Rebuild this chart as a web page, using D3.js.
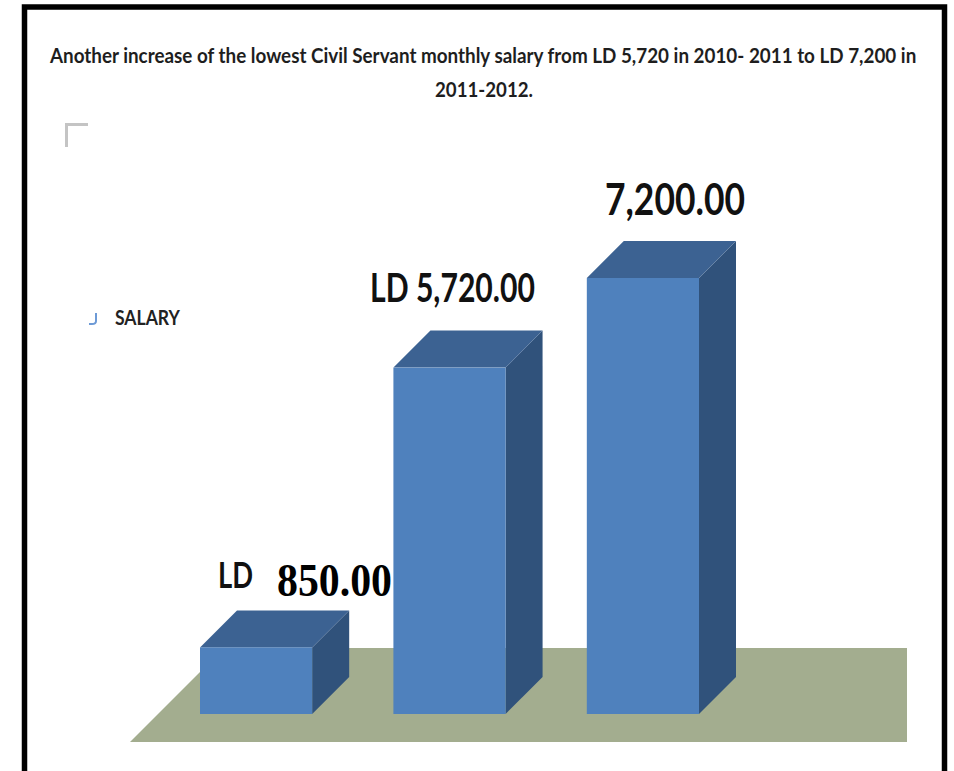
<!DOCTYPE html>
<html>
<head>
<meta charset="utf-8">
<script src="https://cdn.jsdelivr.net/npm/d3@7"></script>
<style>
  html, body { margin: 0; padding: 0; background: #fff; }
  svg { display: block; }
</style>
</head>
<body>
<svg id="chart" width="954" height="771"></svg>
<script>
// ---- data ----
const categories = ["Earlier", "2010-2011", "2011-2012"];
// bar heights as drawn in the picture (first bar is drawn taller than its "850" label)
const salaryValues = [1100, 5720, 7200];
const valueLabels = ["850.00", "LD 5,720.00", "7,200.00"];
const seriesName = "SALARY";
const titleLines = [
  "Another increase of the lowest Civil Servant monthly salary from LD 5,720 in 2010- 2011 to LD 7,200 in",
  "2011-2012."
];

// ---- layout ----
const svg = d3.select("#chart");
const depth = 37;
const baseY = 714;
const colors = { front: "#4f81bd", top: "#3c6292", side: "#30527b", floor: "#a3ad8f" };

const x = d3.scaleBand().domain(categories).range([200, 699]).paddingInner(0.42).paddingOuter(0);
const y = d3.scaleLinear().domain([0, 7200]).range([baseY, 278]);

// helper: place text with its left edge at x0, baseline yb, squeezed horizontally to width w
function fitText(str, x0, yb, w, size, family, fill) {
  const t = svg.append("text")
    .attr("x", 0).attr("y", 0)
    .attr("font-family", family).attr("font-weight", 700).attr("font-size", size)
    .attr("fill", fill).text(str);
  const natural = t.node().getComputedTextLength();
  const sx = w / natural;
  t.attr("transform", `translate(${x0},${yb}) scale(${sx},1)`);
  return t;
}

// frame
svg.append("rect").attr("x", 24.5).attr("y", 7).attr("width", 920).attr("height", 800)
  .attr("fill", "none").attr("stroke", "#000").attr("stroke-width", 5.5);

// title
const sans = "Lato, 'Open Sans', sans-serif";
fitText(titleLines[0], 50, 63, 867, 21, sans, "#1e1e1e");
fitText(titleLines[1], 435, 97, 98, 21, sans, "#1e1e1e");

// gray corner mark
svg.append("path").attr("d", "M66.5,147 L66.5,124.5 L88,124.5")
  .attr("fill", "none").attr("stroke", "#c4c4c4").attr("stroke-width", 3);

// legend
svg.append("path").attr("d", "M96,313 L96,321 Q96,324 92,324 L89,324")
  .attr("fill", "none").attr("stroke", "#6d9ad6").attr("stroke-width", 2);
fitText(seriesName, 115, 325, 65, 21, sans, "#222");

// floor
const floorFront = baseY + 28, floorBack = baseY - 66;
const floorLeft = x(categories[0]) - 70, floorRight = 907;
svg.append("path")
  .attr("d", `M${floorLeft + (floorFront - floorBack)},${floorBack} L${floorRight},${floorBack} L${floorRight},${floorFront} L${floorLeft},${floorFront} Z`)
  .attr("fill", colors.floor);

// bars
const bw = x.bandwidth();
const g = svg.append("g");
categories.forEach((c, i) => {
  const x0 = x(c), x1 = x0 + bw, yt = y(salaryValues[i]);
  g.append("path")
    .attr("d", `M${x1},${yt} L${x1 + depth},${yt - depth} L${x1 + depth},${baseY - depth} L${x1},${baseY} Z`)
    .attr("fill", colors.side);
  g.append("path")
    .attr("d", `M${x0},${yt} L${x0 + depth},${yt - depth} L${x1 + depth},${yt - depth} L${x1},${yt} Z`)
    .attr("fill", colors.top);
  g.append("rect").attr("x", x0).attr("y", yt).attr("width", bw).attr("height", baseY - yt)
    .attr("fill", colors.front);
});

// value labels
fitText(valueLabels[2], 605, 215, 140, 44, sans, "#111");
fitText(valueLabels[1], 370, 302, 165, 40, sans, "#111");
fitText("LD", 218, 588, 35, 36, sans, "#111");
fitText(valueLabels[0], 277, 596, 115, 47, "'Liberation Serif', 'Times New Roman', serif", "#000");
</script>
</body>
</html>
